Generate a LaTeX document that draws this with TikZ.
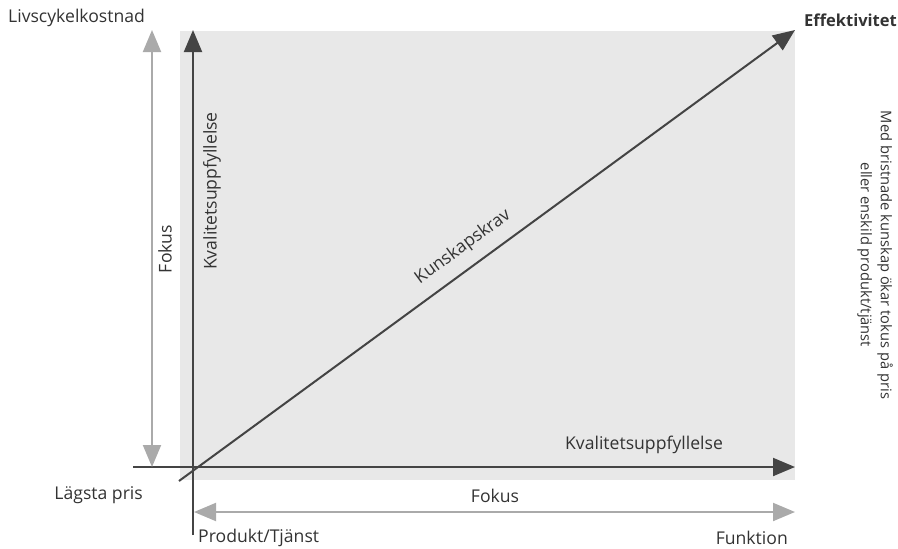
\documentclass[tikz,border=0pt]{standalone}
\usepackage{fontspec}
\setmainfont{Open Sans}
\usetikzlibrary{arrows.meta}
\definecolor{darkax}{HTML}{444444}
\definecolor{lightax}{HTML}{AAAAAA}
\definecolor{bgbox}{HTML}{E8E8E8}
\definecolor{txt}{HTML}{333333}
\begin{document}
\begin{tikzpicture}[x=1pt,y=-1pt,
  lbl/.style={text=txt,font=\fontsize{17.6}{20}\selectfont,inner sep=0pt},
  darkarrow/.style={draw=darkax,line width=2pt,-{Triangle[length=22pt,width=18pt]}},
  lightarrow/.style={draw=lightax,line width=2pt,{Triangle[length=22pt,width=18pt]}-{Triangle[length=22pt,width=18pt]}},
  darkline/.style={draw=darkax,line width=2pt}]
\useasboundingbox (0,0) rectangle (898,549);
\fill[bgbox] (180,31) rectangle (795,480);
% coordinates
\coordinate (vbot) at (193,535);
\coordinate (vtop) at (193,30);
\coordinate (hleft) at (133,467);
\coordinate (hright) at (795,467);
\coordinate (dstart) at (179,481);
\coordinate (dend) at (795,30);
\coordinate (ltop) at (152,30);
\coordinate (lbot) at (152,467);
\coordinate (bleft) at (194,512);
\coordinate (bright) at (795,512);
% axes
\draw[darkarrow] (vbot) -- (vtop);
\draw[darkarrow] (hleft) -- (hright);
\draw[darkarrow] (dstart) -- (dend);
\draw[lightarrow] (lbot) -- (ltop);
\draw[lightarrow] (bleft) -- (bright);
% labels
\node[lbl,anchor=west] (livs) at (8,18) {Livscykelkostnad};
\node[lbl,anchor=east,font=\fontsize{16.5}{20}\selectfont\bfseries] (eff) at (897,20) {Effektivitet};
\node[lbl,rotate=90] (fokl) at (165,249) {Fokus};
\node[lbl,rotate=90] (kvv) at (212,191) {Kvalitetsuppfyllelse};
\node[lbl,rotate=36.2] (kun) at (463,247) {Kunskapskrav};
\node[lbl] (kvh) at (644,445) {Kvalitetsuppfyllelse};
\node[lbl,anchor=east] (lag) at (143,495) {Lägsta pris};
\node[lbl] (fokb) at (495,496) {Fokus};
\node[lbl,anchor=west] (prod) at (198,538) {Produkt/Tjänst};
\node[lbl,anchor=east] (fun) at (788,538) {Funktion};
\node[lbl,rotate=-90,align=center,font=\fontsize{14.7}{20}\selectfont] (med) at (875,255) {Med bristnade kunskap ökar tokus på pris\\eller enskild produkt/tjänst};
\end{tikzpicture}
\end{document}
